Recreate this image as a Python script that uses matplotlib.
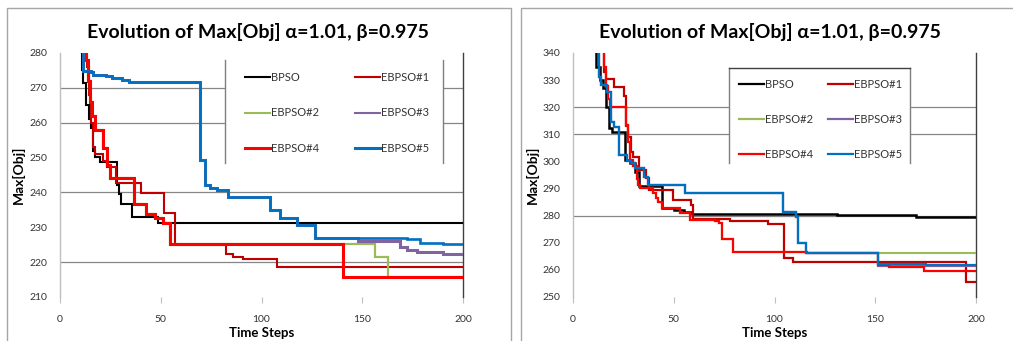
import matplotlib
matplotlib.use("Agg")
import matplotlib.pyplot as plt
from matplotlib.patches import Rectangle
from matplotlib.lines import Line2D

plt.rcParams['font.family'] = ['Lato', 'DejaVu Sans']

# ---------------- data (step breakpoints: x where a new value starts) ----------------
TITLE = "Evolution of Max[Obj] \u03b1=1.01, \u03b2=0.975"
SERIES = ["BPSO", "EBPSO#1", "EBPSO#2", "EBPSO#3", "EBPSO#4", "EBPSO#5"]
COLORS = ["#000000", "#C00000", "#9BBB59", "#8064A2", "#FF0000", "#0070C0"]
X_TICKS = [0, 50, 100, 150, 200]

# Left chart
L_YTICKS = [210, 220, 230, 240, 250, 260, 270, 280]
L_GRID = [220, 240, 260, 270]
L_BPSO_X = [10, 11, 11.6, 13, 14.5, 15.5, 16.5, 17.5, 20, 28.5, 29.5, 30.5, 35.5, 48.5, 200]
L_BPSO_Y = [285, 275, 271.5, 265, 261, 258.5, 252, 250.3, 248.8, 242, 239.5, 236.6, 233, 231.3, 231.3]
L_EB1_X = [12.5, 13.5, 14.5, 15.5, 16.5, 17.5, 21.5, 23.5, 28, 40, 51.5, 57, 82.5, 86, 91, 107.5, 200]
L_EB1_Y = [282, 276, 268, 260, 253, 251, 249, 247.4, 242.6, 239.7, 234, 224.8, 222.3, 221.4, 220.8, 218.5, 218.5]
L_EB4_X = [12, 13, 14, 15, 16, 17.4, 21.3, 23.5, 25, 36.5, 42.5, 47, 51, 54.5, 140.3, 200]
L_EB4_Y = [281, 278, 272, 266, 262, 257.9, 252.7, 248, 244.1, 236.7, 233.8, 232.6, 231.2, 225.2, 215.8, 215.8]
L_EB2_X = [12, 13, 14, 15, 16, 17.4, 21.3, 23.5, 25, 36.5, 42.5, 47, 51, 54.5, 156.3, 163, 200]
L_EB2_Y = [281, 278, 272, 266, 262, 257.9, 252.7, 248, 244.1, 236.7, 233.8, 232.6, 231.2, 225.2, 221.6, 215.7, 215.7]
L_EB5_X = [10.5, 11.5, 15.5, 16.5, 23, 26, 31, 34, 69.5, 72, 74.4, 77.8, 83.5, 104.2, 109.2, 117.4, 126.6, 172, 178.7, 190, 200]
L_EB5_Y = [282, 274.8, 274.5, 273.8, 273.4, 272.8, 272.3, 271.8, 249.2, 242, 241.2, 240.7, 238.6, 235, 232.6, 230.7, 226.8, 226.5, 225.6, 225.2, 225.2]
L_EB3_X = [10.5, 11.5, 15.5, 16.5, 23, 26, 31, 34, 69.5, 72, 74.4, 77.8, 83.5, 104.2, 109.2, 117.4, 126.6, 148, 168.7, 172, 177, 190.2, 200]
L_EB3_Y = [282, 274.8, 274.5, 273.8, 273.4, 272.8, 272.3, 271.8, 249.2, 242, 241.2, 240.7, 238.6, 235, 232.6, 230.7, 226.8, 226.2, 224.4, 223.5, 222.8, 222.3, 222.2]

# Right chart
R_YTICKS = [250, 260, 270, 280, 290, 300, 310, 320, 330, 340]
R_GRID = [280, 310, 320]
R_BPSO_X = [10, 11.5, 13.5, 15, 16.5, 18, 19.5, 26, 28.5, 31, 33, 44, 50, 55, 59, 131, 170, 200]
R_BPSO_Y = [345, 335, 330, 327, 320, 312.3, 310.8, 300.5, 299.5, 296, 290.8, 283, 282, 281.2, 280.5, 280.1, 279.6, 279.6]
R_EB1_X = [14, 15.5, 16.5, 20.5, 25.5, 26.5, 27.5, 29, 30, 33, 36, 37.5, 49.5, 58.5, 59.5, 78, 97, 104.5, 109, 195, 200]
R_EB1_Y = [345, 333, 330.5, 327.4, 324, 313, 309, 303.6, 301.8, 297, 294, 289.5, 285.8, 284, 278.6, 278.2, 276.8, 264.3, 263.0, 255.5, 255.5]
R_EB4_X = [14.5, 15.5, 16.5, 17.5, 18.3, 26.5, 27.4, 28.3, 29.9, 31.6, 32.4, 33.2, 39.5, 41, 42.4, 44, 53, 58, 70.5, 72.5, 74, 79.5, 116, 151.5, 157, 174, 200]
R_EB4_Y = [345, 335, 328, 323, 320.2, 313.4, 307.2, 300.7, 298.3, 293.4, 291.3, 290.1, 288.2, 286.4, 285.2, 282.7, 280.9, 278.5, 278.0, 277.3, 271.5, 266.6, 266.3, 261.8, 261.2, 259.7, 259.7]
R_EB2_X = [14.5, 15.5, 16.5, 17.5, 18.3, 26.5, 27.4, 28.3, 29.9, 31.6, 32.4, 33.2, 39.5, 41, 42.4, 44, 53, 58, 70.5, 72.5, 74, 79.5, 116, 200]
R_EB2_Y = [345, 335, 328, 323, 320.2, 313.4, 307.2, 300.7, 298.3, 293.4, 291.3, 290.1, 288.2, 286.4, 285.2, 282.7, 280.9, 278.5, 278.0, 277.3, 271.5, 266.6, 266.1, 266.1]
R_EB5_X = [12, 13, 14, 17, 19, 20.5, 23, 27, 29, 31, 35, 37, 55.5, 104, 110.5, 111.5, 115.5, 151.5, 175, 200]
R_EB5_Y = [345, 331, 328.2, 325.7, 314.7, 312.8, 302.4, 300, 299.3, 297.4, 294.4, 291.3, 288.2, 281.4, 279.6, 269.8, 266.3, 262.2, 261.8, 261.8]
R_EB3_X = [12, 13, 14, 17, 19, 20.5, 23, 27, 29, 31, 35, 37, 55.5, 104, 110.5, 111.5, 115.5, 151.5, 200]
R_EB3_Y = [345, 331, 328.2, 325.7, 314.7, 312.8, 302.4, 300, 299.3, 297.4, 294.4, 291.3, 288.2, 281.4, 279.6, 269.8, 266.3, 261.3, 261.3]

LEFT = dict(xs=[L_BPSO_X, L_EB1_X, L_EB2_X, L_EB3_X, L_EB4_X, L_EB5_X],
            ys=[L_BPSO_Y, L_EB1_Y, L_EB2_Y, L_EB3_Y, L_EB4_Y, L_EB5_Y],
            lws=[1.5, 1.5, 1.6, 2.2, 2.2, 1.9], ylim=(210, 280), yticks=L_YTICKS, grid=L_GRID)
RIGHT = dict(xs=[R_BPSO_X, R_EB1_X, R_EB2_X, R_EB3_X, R_EB4_X, R_EB5_X],
             ys=[R_BPSO_Y, R_EB1_Y, R_EB2_Y, R_EB3_Y, R_EB4_Y, R_EB5_Y],
             lws=[1.8, 1.6, 1.5, 1.6, 1.6, 1.6], ylim=(250, 340), yticks=R_YTICKS, grid=R_GRID)

W, H = 1013, 341
fig = plt.figure(figsize=(W / 100, H / 100), dpi=100)


def fx(px):
    return px / W


def fy(py):
    return 1 - py / H


# chart frames
for x0, x1 in [(6.5, 511), (521, 1030)]:
    fig.add_artist(Rectangle((fx(x0), fy(360)), fx(x1 - x0), (360 - 8) / H, transform=fig.transFigure,
                             facecolor='none', edgecolor='#A6A6A6', linewidth=1.0, zorder=0))


def make_chart(spec, ax_left_px, title_cx, ylabel_cx, legend_box, legend_anchor, lspacing, colspacing,
               legend_lws, box_top):
    ax = fig.add_axes([fx(ax_left_px), fy(297), 403 / W, 244 / H])
    ax.set_xlim(0, 200)
    ax.set_ylim(*spec['ylim'])
    ax.set_xticks(X_TICKS)
    ax.set_yticks(spec['yticks'])
    for g in spec['grid']:
        ax.axhline(g, color='#868686', linewidth=0.9, zorder=1)
    handles = []
    for i, name in enumerate(SERIES):
        h, = ax.plot(spec['xs'][i], spec['ys'][i], drawstyle='steps-post', color=COLORS[i],
                     linewidth=spec['lws'][i], label=name, zorder=4, solid_joinstyle='miter')
        handles.append(h)
    for s in ['top', 'bottom']:
        ax.spines[s].set_visible(False)
    ax.spines['left'].set_color('#BFBFBF')
    ax.spines['left'].set_linewidth(1.0)
    ax.spines['right'].set_color('#404040')
    ax.spines['right'].set_linewidth(1.0)
    ax.tick_params(axis='y', length=0, pad=9, labelsize=7.5, labelcolor='#333333')
    ax.tick_params(axis='x', length=4, width=0.8, color='#BFBFBF', direction='out', pad=9,
                   labelsize=7.5, labelcolor='#333333')
    ax.set_facecolor('none')

    # legend box (white) with borders
    bx0, by0, bx1, by1 = legend_box
    ax.add_patch(Rectangle((fx(bx0), fy(by1)), fx(bx1 - bx0), (by1 - by0) / H, transform=fig.transFigure,
                           facecolor='white', edgecolor='none', zorder=3, clip_on=False))
    ax.add_line(Line2D([fx(bx0), fx(bx0)], [fy(by0), fy(by1)], transform=fig.transFigure,
                       color='#7F7F7F', linewidth=1.0, zorder=3, clip_on=False))
    ax.add_line(Line2D([fx(bx1), fx(bx1)], [fy(by0), fy(by1)], transform=fig.transFigure,
                       color='#7F7F7F', linewidth=1.0, zorder=3, clip_on=False))
    if box_top:
        ax.add_line(Line2D([fx(bx0), fx(bx1)], [fy(by0), fy(by0)], transform=fig.transFigure,
                           color='#404040', linewidth=1.0, zorder=3, clip_on=False))

    order = [0, 2, 4, 1, 3, 5]
    leg_handles = [Line2D([], [], color=COLORS[i], linewidth=legend_lws[i]) for i in order]
    leg = ax.legend(leg_handles, [SERIES[i] for i in order], ncol=2, loc='upper left',
                    bbox_to_anchor=(fx(legend_anchor[0]), fy(legend_anchor[1])),
                    bbox_transform=fig.transFigure, frameon=False, borderpad=0, borderaxespad=0,
                    handlelength=2.25, handletextpad=0.1, labelspacing=lspacing,
                    columnspacing=colspacing, prop={'size': 8})
    for t in leg.get_texts():
        t.set_color('#333333')

    fig.text(fx(title_cx), fy(32), TITLE, ha='center', va='center', fontsize=14, fontweight='bold',
             color='#000000')
    fig.text(fx(ylabel_cx), fy(175), "Max[Obj]", ha='center', va='center', rotation=90, fontsize=10,
             fontweight='bold')
    fig.text(fx(ax_left_px + 201.5), fy(333), "Time Steps", ha='center', va='center', fontsize=9.5,
             fontweight='bold')
    return ax


make_chart(LEFT, 60, 258, 18, (225, 60, 443, 163), (245, 72), 2.2, 3.25,
           [1.5, 1.5, 1.5, 1.5, 2.2, 2.2], False)
make_chart(RIGHT, 573, 770, 532, (729, 68, 910, 163), (739, 79), 2.15, 1.35,
           [1.6, 1.6, 1.6, 1.6, 1.6, 1.6], True)

fig.savefig("out.png", dpi=100)
